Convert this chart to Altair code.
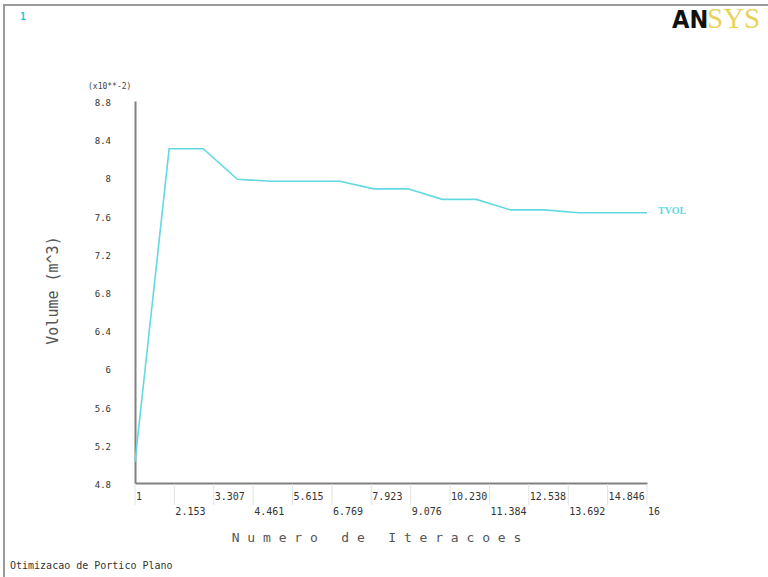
import altair as alt
import pandas as pd

# ---- data ----
iterations = list(range(1, 17))
tvol = [5.02, 8.30, 8.30, 7.98, 7.96, 7.96, 7.96, 7.88, 7.88, 7.77, 7.77, 7.66, 7.66, 7.63, 7.63, 7.63]

x_tick_values = [1, 2.153, 3.307, 4.461, 5.615, 6.769, 7.923, 9.076, 10.230, 11.384, 12.538, 13.692, 14.846, 16]
x_tick_labels = ["1", "2.153", "3.307", "4.461", "5.615", "6.769", "7.923", "9.076",
                 "10.230", "11.384", "12.538", "13.692", "14.846", "16"]
x_label_rows = [0, 1, 0, 1, 0, 1, 0, 1, 0, 1, 0, 1, 0, 1]
y_tick_values = [4.8, 5.2, 5.6, 6.0, 6.4, 6.8, 7.2, 7.6, 8.0, 8.4, 8.8]
y_tick_labels = ["4.8", "5.2", "5.6", "6", "6.4", "6.8", "7.2", "7.6", "8", "8.4", "8.8"]

df = pd.DataFrame({"iter": iterations, "tvol": tvol})
xt = pd.DataFrame({"v": x_tick_values, "label": x_tick_labels, "row": x_label_rows})
yt = pd.DataFrame({"v": y_tick_values, "label": y_tick_labels})
one = pd.DataFrame({"a": [0]})

MONO = "DejaVu Sans Mono"
CYAN = "#62d9e0"
NB = "\u00a0"

x_scale = alt.Scale(domain=[1, 16], nice=False, zero=False)
y_scale = alt.Scale(domain=[4.8, 8.8], nice=False, zero=False)

x_title = " ".join("Numero") + NB * 3 + " ".join("de") + NB * 3 + " ".join("Iteracoes")

line = alt.Chart(df).mark_line(color=CYAN, strokeWidth=1.6).encode(
    x=alt.X("iter:Q", scale=x_scale,
            axis=alt.Axis(values=x_tick_values, ticks=False, labels=False,
                          title=x_title,
                          titleFont=MONO, titleFontSize=13, titleFontWeight="normal",
                          titleColor="#555", titleX=241, titleY=54,
                          titleAlign="center", titleBaseline="middle")),
    y=alt.Y("tvol:Q", scale=y_scale,
            axis=alt.Axis(values=y_tick_values, ticks=False, labels=False,
                          title="Volume (m^3)", titleFont=MONO, titleFontSize=15,
                          titleFontWeight="normal", titleColor="#555",
                          titleX=-83, titleY=189, titleAlign="center",
                          titleBaseline="middle")),
)

tick_rules = alt.Chart(xt).mark_rule(color="#e2e2e2", strokeWidth=1).encode(
    x=alt.X("v:Q", scale=x_scale), y=alt.value(383), y2=alt.value(404)
)

def x_label_row(r, ypix):
    return alt.Chart(xt).transform_filter(alt.datum.row == r).mark_text(
        font=MONO, fontSize=10, color="#333", align="left", baseline="middle", dx=1
    ).encode(x=alt.X("v:Q", scale=x_scale), y=alt.value(ypix), text="label:N")

x_labels_top = x_label_row(0, 396)
x_labels_bot = x_label_row(1, 411)

y_labels = alt.Chart(yt).mark_text(
    font=MONO, fontSize=9, color="#333", align="right", baseline="middle", dy=2
).encode(
    x=alt.value(-24),
    y=alt.Y("v:Q", scale=y_scale),
    text="label:N",
)

tvol_label = alt.Chart(df.tail(1)).mark_text(
    text="TVOL", color=CYAN, font="Liberation Serif", fontSize=10, fontWeight="bold",
    align="left", baseline="middle", dx=11, dy=-2
).encode(x=alt.X("iter:Q", scale=x_scale), y=alt.Y("tvol:Q", scale=y_scale))

frame = alt.Chart(one).mark_rect(fillOpacity=0, stroke="#9a9a9a", strokeWidth=2).encode(
    x=alt.value(-131), x2=alt.value(700), y=alt.value(-96), y2=alt.value(500)
)

def txt(s, x, y, **kw):
    return alt.Chart(one).mark_text(text=s, **kw).encode(x=alt.value(x), y=alt.value(y))

header = txt("(x10**-2)", -47, -14, font=MONO, fontSize=8, color="#444",
             align="left", baseline="middle")
win_num = txt("1", -115, -84, font=MONO, fontSize=10, fontWeight="bold", color="#2cc6d4",
              align="left", baseline="middle")
logo_an = txt("AN", 537, -73, font="DejaVu Sans Condensed", fontSize=25, fontWeight="bold",
              color="#111", align="left", baseline="alphabetic")
logo_sys = txt("SYS", 572, -73, font="Liberation Serif, DejaVu Serif, serif", fontSize=29,
               color="#e8d25c", align="left", baseline="alphabetic")
caption = txt("Otimizacao de Portico Plano", -125, 465, font=MONO, fontSize=10,
              color="#333", align="left", baseline="middle")

chart = alt.layer(
    frame, tick_rules, line, x_labels_top, x_labels_bot, y_labels, tvol_label,
    header, win_num, logo_an, logo_sys, caption
).properties(
    width=512, height=382,
    padding={"left": 135, "top": 101, "right": 121, "bottom": 94},
    autosize="none", background="white"
).configure_view(stroke=None).configure_axis(
    grid=False, domainColor="#808080", domainWidth=2
)

chart.save("out.html", embed_options={"renderer": "svg", "actions": False})
